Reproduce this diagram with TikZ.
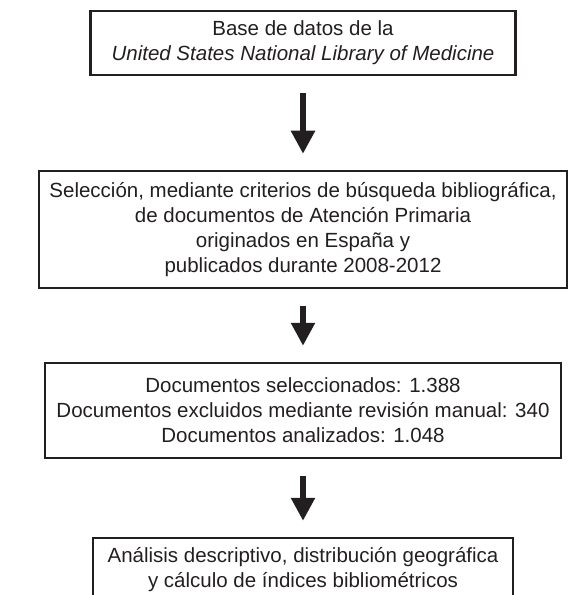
\documentclass[tikz,border=0pt]{standalone}
\usepackage{fontspec}
\setmainfont{Liberation Sans}
\usetikzlibrary{arrows.meta}
\definecolor{tinta}{HTML}{231F20}

\begin{document}
\begin{tikzpicture}[x=1bp, y=-1bp,
    caja/.style={draw=tinta, line width=2.5bp, inner sep=0pt, align=center,
      text=tinta, font=\fontsize{20.5bp}{25bp}\selectfont},
    flecha/.style={draw=tinta, line width=5.5bp,
      -{Triangle[width=23bp,length=23bp]}, shorten <=17bp, shorten >=16bp}]
        \clip (0,0) rectangle (585,595);

        \node[caja, minimum width=425bp, minimum height=64bp] (base) at (303,43)
          {Base de datos de la\\\textit{United States National Library of Medicine}};

        \node[caja, minimum width=528bp, minimum height=117bp] (seleccion) at (303,229.5)
          {Selección, mediante criterios de búsqueda bibliográfica,\\de documentos de Atención Primaria\\originados en España y\\publicados durante 2008-2012};

        \node[caja, minimum width=516bp, minimum height=95bp] (documentos) at (303,410.5)
          {Documentos seleccionados: 1.388\\Documentos excluidos mediante revisión manual: 340\\Documentos analizados: 1.048};

        \node[caja, minimum width=420bp, minimum height=64bp] (analisis) at (303,570)
          {Análisis descriptivo, distribución geográfica\\y cálculo de índices bibliométricos};

        \draw[flecha] (base.south) -- (seleccion.north);
        \draw[flecha] (seleccion.south) -- (documentos.north);
        \draw[flecha] (documentos.south) -- (analisis.north);

\end{tikzpicture}
\end{document}
